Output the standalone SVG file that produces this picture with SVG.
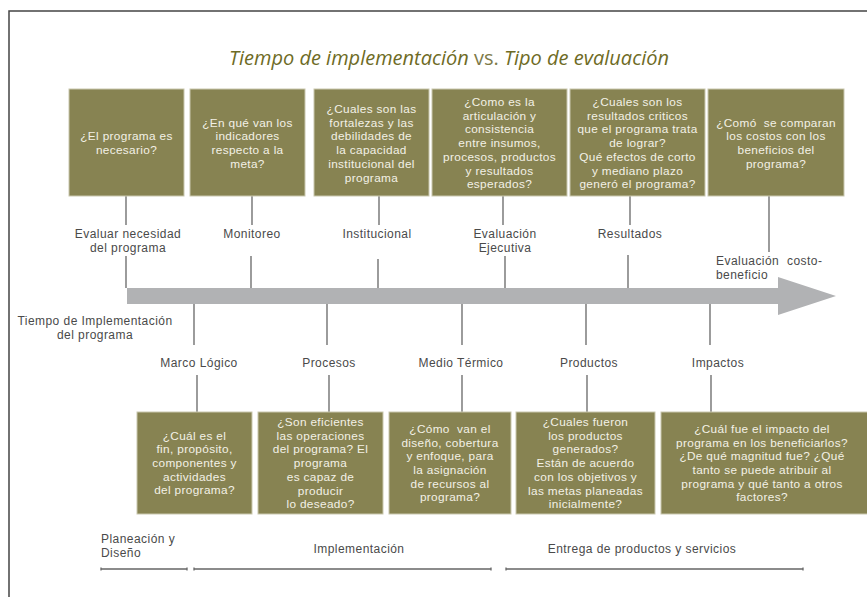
<svg xmlns="http://www.w3.org/2000/svg" width="867" height="597" viewBox="0 0 867 597">
<style>
.box{fill:#878352;stroke:#c9c7ae;stroke-width:1}
.bt{font-family:"Liberation Sans",Arial,sans-serif;font-size:11.8px;letter-spacing:0.35px;fill:#f3f1e6;text-anchor:middle}
.lb{font-family:"Liberation Sans",Arial,sans-serif;font-size:12px;letter-spacing:0.45px;fill:#4a4a4a;text-anchor:middle}
.lbl{font-family:"Liberation Sans",Arial,sans-serif;font-size:12px;letter-spacing:0.45px;fill:#4a4a4a}
.cn{stroke:#5a5a5a;stroke-width:1.2;fill:none}
.tl{stroke:#666;stroke-width:1.3;fill:none}
.frame{stroke:#444;stroke-width:1.5;fill:none}
</style>
<rect x="0" y="0" width="867" height="597" fill="#ffffff"/>
<path class="frame" d="M9,597 V11 H867"/>
<g id="title">
<text x="449" y="65" text-anchor="middle" font-family="'Open Sans','Noto Sans',sans-serif" font-size="20px" fill="#6e6b25"><tspan font-style="italic">Tiempo de implementación</tspan><tspan fill="#7d7a48"> vs. </tspan><tspan font-style="italic">Tipo de evaluación</tspan></text>
</g>
<g id="arrow">
<polygon points="127,288 778,288 778,277 836,296 778,315 778,304 127,304" fill="#b1b2b4"/>
</g>
<g id="connectors">
<path class="cn" d="M126,196 V225 M252,196 V225 M379,196 V225 M503,196 V225 M630,196 V225 M769,196 V252"/>
<path class="cn" d="M126,256 V288 M251,256 V288 M378,259 V288 M505,256 V288 M628,255 V288"/>
<path class="cn" d="M194,304 V345 M327,304 V345 M462,304 V345 M586,304 V345 M710,304 V345"/>
<path class="cn" d="M197,375 V412 M329,375 V412 M462,375 V412 M587,375 V412 M711,375 V412"/>
</g>
<g id="top1"><rect class="box" x="69" y="89" width="115" height="107"/>
<text class="bt"><tspan x="126.5" y="140">¿El programa es</tspan><tspan x="126.5" y="153.7">necesario?</tspan></text></g>
<g id="top2"><rect class="box" x="190" y="89" width="115" height="107"/>
<text class="bt"><tspan x="247.5" y="126.5">¿En qué van los</tspan><tspan x="247.5" y="140.2">indicadores</tspan><tspan x="247.5" y="153.9">respecto a la</tspan><tspan x="247.5" y="167.6">meta?</tspan></text></g>
<g id="top3"><rect class="box" x="314" y="89" width="115" height="107"/>
<text class="bt"><tspan x="371.5" y="113">¿Cuales son las</tspan><tspan x="371.5" y="126.7">fortalezas y las</tspan><tspan x="371.5" y="140.4">debilidades de</tspan><tspan x="371.5" y="154.1">la capacidad</tspan><tspan x="371.5" y="167.8">institucional del</tspan><tspan x="371.5" y="181.5">programa</tspan></text></g>
<g id="top4"><rect class="box" x="432" y="89" width="135" height="107"/>
<text class="bt"><tspan x="499.5" y="106">¿Como es la</tspan><tspan x="499.5" y="119.7">articulación y</tspan><tspan x="499.5" y="133.4">consistencia</tspan><tspan x="499.5" y="147.1">entre insumos,</tspan><tspan x="499.5" y="160.8">procesos, productos</tspan><tspan x="499.5" y="174.5">y resultados</tspan><tspan x="499.5" y="188.2">esperados?</tspan></text></g>
<g id="top5"><rect class="box" x="570" y="89" width="135" height="107"/>
<text class="bt"><tspan x="637.5" y="106">¿Cuales son los</tspan><tspan x="637.5" y="119.7">resultados criticos</tspan><tspan x="637.5" y="133.4">que el programa trata</tspan><tspan x="637.5" y="147.1">de lograr?</tspan><tspan x="637.5" y="160.8">Qué efectos de corto</tspan><tspan x="637.5" y="174.5">y mediano plazo</tspan><tspan x="637.5" y="188.2">generó el programa?</tspan></text></g>
<g id="top6"><rect class="box" x="708" y="89" width="136" height="107"/>
<text class="bt"><tspan x="776" y="126.5">¿Comó&#160; se comparan</tspan><tspan x="776" y="140.2">los costos con los</tspan><tspan x="776" y="153.9">beneficios del</tspan><tspan x="776" y="167.6">programa?</tspan></text></g>
<g id="lab-top">
<text class="lb"><tspan x="128" y="238">Evaluar necesidad</tspan><tspan x="128" y="252">del programa</tspan></text>
<text class="lb" x="252" y="238">Monitoreo</text>
<text class="lb" x="377" y="238">Institucional</text>
<text class="lb"><tspan x="505" y="238">Evaluación</tspan><tspan x="505" y="252">Ejecutiva</tspan></text>
<text class="lb" x="630" y="238">Resultados</text>
<text class="lbl" word-spacing="4"><tspan x="716" y="265">Evaluación costo-</tspan><tspan x="716" y="279" word-spacing="0">beneficio</tspan></text>
</g>
<g id="lab-axis">
<text class="lb"><tspan x="95" y="325">Tiempo de Implementación</tspan><tspan x="95" y="339">del programa</tspan></text>
</g>
<g id="lab-bottom">
<text class="lb" x="199" y="367">Marco Lógico</text>
<text class="lb" x="329" y="367">Procesos</text>
<text class="lb" x="461" y="367">Medio Térmico</text>
<text class="lb" x="589" y="367">Productos</text>
<text class="lb" x="718" y="367">Impactos</text>
</g>
<g id="bot1"><rect class="box" x="137" y="412" width="115" height="102"/>
<text class="bt"><tspan x="194.5" y="439.5">¿Cuál es el</tspan><tspan x="194.5" y="453.2">fin, propósito,</tspan><tspan x="194.5" y="466.9">componentes y</tspan><tspan x="194.5" y="480.6">actividades</tspan><tspan x="194.5" y="494.3">del programa?</tspan></text></g>
<g id="bot2"><rect class="box" x="258" y="412" width="125" height="102"/>
<text class="bt"><tspan x="320.5" y="426">¿Son eficientes</tspan><tspan x="320.5" y="439.7">las operaciones</tspan><tspan x="320.5" y="453.4">del programa? El</tspan><tspan x="320.5" y="467.1">programa</tspan><tspan x="320.5" y="480.8">es capaz de</tspan><tspan x="320.5" y="494.5">producir</tspan><tspan x="320.5" y="508.2">lo deseado?</tspan></text></g>
<g id="bot3"><rect class="box" x="389" y="412" width="122" height="102"/>
<text class="bt"><tspan x="450" y="432.8">¿Cómo&#160; van el</tspan><tspan x="450" y="446.5">diseño, cobertura</tspan><tspan x="450" y="460.2">y enfoque, para</tspan><tspan x="450" y="473.9">la asignación</tspan><tspan x="450" y="487.6">de recursos al</tspan><tspan x="450" y="501.3">programa?</tspan></text></g>
<g id="bot4"><rect class="box" x="516" y="412" width="139" height="102"/>
<text class="bt"><tspan x="585.5" y="426">¿Cuales fueron</tspan><tspan x="585.5" y="439.7">los productos</tspan><tspan x="585.5" y="453.4">generados?</tspan><tspan x="585.5" y="467.1">Están de acuerdo</tspan><tspan x="585.5" y="480.8">con los objetivos y</tspan><tspan x="585.5" y="494.5">las metas planeadas</tspan><tspan x="585.5" y="508.2">inicialmente?</tspan></text></g>
<g id="bot5"><rect class="box" x="661" y="412" width="207" height="102"/>
<text class="bt"><tspan x="762" y="432.8">¿Cuál fue el impacto del</tspan><tspan x="762" y="446.5">programa en los beneficiarlos?</tspan><tspan x="762" y="460.2">¿De qué magnitud fue? ¿Qué</tspan><tspan x="762" y="473.9">tanto se puede atribuir al</tspan><tspan x="762" y="487.6">programa y qué tanto a otros</tspan><tspan x="762" y="501.3">factores?</tspan></text></g>
<g id="phases">
<text class="lbl"><tspan x="101" y="543">Planeación y</tspan><tspan x="101" y="557">Diseño</tspan></text>
<text class="lb" x="359" y="553">Implementación</text>
<text class="lb" x="642" y="553">Entrega de productos y servicios</text>
<path class="tl" d="M101,569 H187 M101,567.5 V570.5 M187,567.5 V570.5"/>
<path class="tl" d="M194,569 H491 M194,567.5 V570.5 M491,567.5 V570.5"/>
<path class="tl" d="M506,569 H803 M506,567.5 V570.5 M803,567.5 V570.5"/>
</g>
</svg>
